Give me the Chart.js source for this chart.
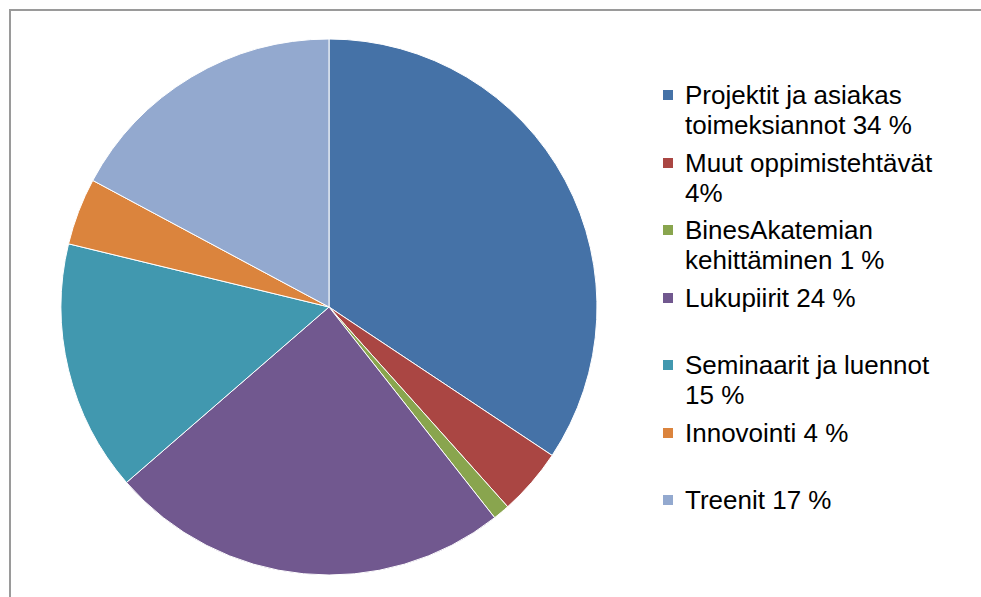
<!DOCTYPE html>
<html>
<head>
<meta charset="utf-8">
<script src="https://cdn.jsdelivr.net/npm/chart.js@4/dist/chart.umd.min.js"></script>
<style>
    body { margin: 0; background: #fff; width: 981px; height: 597px; overflow: hidden; position: relative; }
    #frame { position: absolute; left: 9px; top: 9px; width: 990px; height: 600px; border-left: 2px solid #9a9a9a; border-top: 2px solid #9a9a9a; }
    #wrap { position: absolute; left: 59px; top: 37px; width: 540px; height: 540px; }
    #legend { position: absolute; left: 663px; top: 80px; font-family: "Liberation Sans", Arial, sans-serif; font-size: 26px; color: #000; }
    .item { position: relative; height: 67.5px; padding-left: 22px; line-height: 30px; white-space: pre-line; }
    .box { position: absolute; left: 0; top: 10px; width: 10px; height: 10px; }
</style>
</head>
<body>
<div id="frame"></div>
<div id="wrap"><canvas id="chart" width="540" height="540"></canvas></div>
<div id="legend"></div>

<script>
const labels = [
    "Projektit ja asiakas\ntoimeksiannot 34 %",
    "Muut oppimistehtävät\n4%",
    "BinesAkatemian\nkehittäminen 1 %",
    "Lukupiirit 24 %",
    "Seminaarit ja luennot\n15 %",
    "Innovointi 4 %",
    "Treenit 17 %"
];
const values = [34, 4, 1, 24, 15, 4, 17];
const colors = ["#4572a7", "#aa4643", "#89a54e", "#71588f", "#4198af", "#db843d", "#93a9cf"];

// legend drawn as html so the long labels wrap like the original
const legend = document.getElementById("legend");
labels.forEach((l, i) => {
    const div = document.createElement("div");
    div.className = "item";
    div.innerHTML = `<span class="box" style="background:${colors[i]}"></span>`;
    div.appendChild(document.createTextNode(l));
    legend.appendChild(div);
});

new Chart(document.getElementById("chart"), {
    type: "pie",
    data: {
        labels: labels,
        datasets: [{
            data: values,
            backgroundColor: colors,
            borderColor: "#ffffff",
            borderWidth: 1,
            radius: 268
        }]
    },
    options: {
        responsive: false,
        animation: false,
        layout: { padding: 0 },
        plugins: {
            legend: { display: false },
            tooltip: { enabled: false }
        }
    }
});
</script>
</body>
</html>
